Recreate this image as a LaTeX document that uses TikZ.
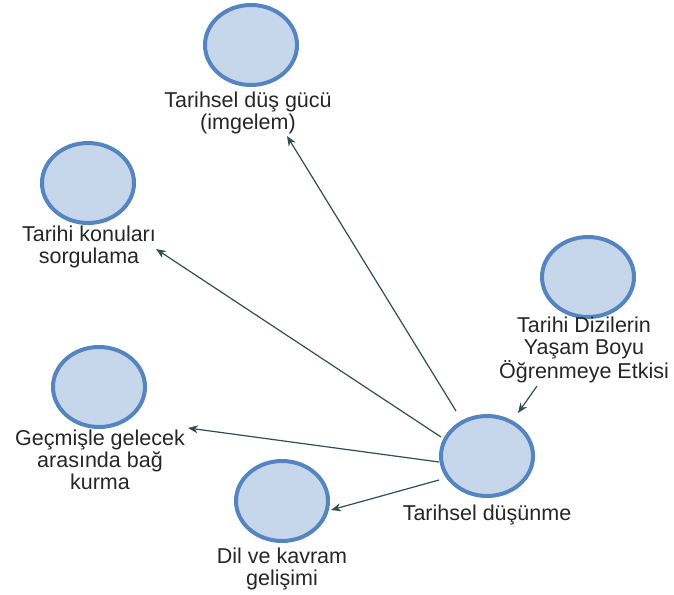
\documentclass[tikz,border=0pt]{standalone}
\usepackage{fontspec}
\setmainfont{Liberation Sans}
\usetikzlibrary{arrows.meta,shapes.geometric}
\definecolor{cfill}{HTML}{C6D6EB}
\definecolor{cline}{HTML}{5585C0}
\definecolor{arrc}{HTML}{2F4F4F}
\begin{document}
\begin{tikzpicture}[x=1pt,y=-1pt,
  bub/.style={ellipse,draw=cline,fill=cfill,line width=4pt,minimum width=92pt,minimum height=80pt,inner sep=0pt},
  lab/.style={align=center,font=\fontsize{21.5}{22}\selectfont,inner sep=0pt,text=black!85,anchor=base},
  arr/.style={draw=arrc,line width=1.2pt,-{Stealth[length=10pt,width=8pt]}}]
\useasboundingbox (0,0) rectangle (674,594);
% bubbles
\node[bub] (c1) at (251,45) {};
\node[bub] (c2) at (88,183) {};
\node[bub] (c3) at (588,277) {};
\node[bub] (c4) at (99,387) {};
\node[bub] (c5) at (282,501) {};
\node[bub] (c6) at (487,456) {};
% labels (placed at the baseline of their last line)
\node[lab] (l1) at (248,129) {Tarihsel düş gücü\\(imgelem)};
\node[lab] (l2) at (89,263) {Tarihi konuları\\sorgulama};
\node[lab] (l3) at (584,378) {Tarihi Dizilerin\\Yaşam Boyu\\Öğrenmeye Etkisi};
\node[lab] (l4) at (100,489) {Geçmişle gelecek\\arasında bağ\\kurma};
\node[lab] (l5) at (282,585) {Dil ve kavram\\gelişimi};
\node[lab] (l6) at (487,520) {Tarihsel düşünme};
% connector ends
\coordinate (s1) at (456,411);
\coordinate (t1) at (287,136);
\coordinate (s2) at (441,437);
\coordinate (t2) at (156,249);
\coordinate (s3) at (439,462);
\coordinate (t3) at (188,428);
\coordinate (s4) at (439,480);
\coordinate (t4) at (331,510);
\coordinate (s5) at (537,386);
\coordinate (t5) at (518,413);
\draw[arr] (s1) -- (t1);
\draw[arr] (s2) -- (t2);
\draw[arr] (s3) -- (t3);
\draw[arr] (s4) -- (t4);
\draw[arr] (s5) -- (t5);
\end{tikzpicture}
\end{document}
